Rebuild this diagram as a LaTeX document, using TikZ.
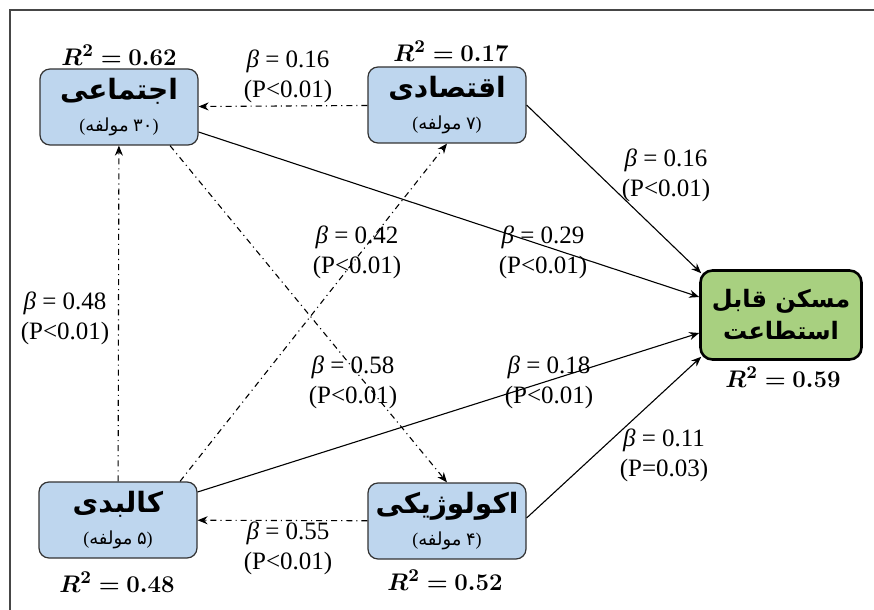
\documentclass[tikz,border=0pt]{standalone}
\usepackage{fontspec}
\usepackage{amsmath}
\usepackage{bm}
\usetikzlibrary{arrows.meta}
\TeXXeTstate=1
\setmainfont{Liberation Serif}
\newfontfamily\arabicfont[Script=Arabic]{DejaVu Sans}
\definecolor{boxblue}{RGB}{190,214,238}
\definecolor{boxgreen}{RGB}{168,208,128}
\definecolor{framegray}{RGB}{70,70,70}

\tikzset{
  factor/.style={draw=black!80, rounded corners=5pt, fill=boxblue, line width=0.6pt,
    minimum width=79pt, minimum height=38pt, align=center, inner sep=1pt},
  target/.style={draw=black, rounded corners=6pt, fill=boxgreen, line width=1.3pt,
    minimum width=80.5pt, minimum height=44.5pt, align=center, inner sep=1pt,
    font=\arabicfont\bfseries\fontsize{12}{16}\selectfont},
  coef/.style={align=center, font=\fontsize{12.5}{15}\selectfont, inner sep=0pt},
  rsq/.style={font=\fontsize{12.5}{14}\selectfont, inner sep=0pt},
  link/.style={-{Stealth[length=5pt,width=4pt]}, line width=0.55pt},
  weaklink/.style={link, dash dot},
}
\newcommand{\factorname}[2]{{\arabicfont\bfseries\fontsize{14}{16}\selectfont\beginR #1\endR}\\[4pt]{\fontsize{9}{10}\selectfont({\arabicfont مولفه}\ {\arabicfont #2})}}
\newcommand{\coefb}[2]{{\itshape β} = #1\\(P#2)}

\begin{document}
\begin{tikzpicture}[x=0.5pt,y=-0.5pt]
  \useasboundingbox (0,0) rectangle (874,610);
  \draw[framegray, line width=0.8pt] (10,610) -- (10,10) -- (874,10);

  % Define nodes
  \node[factor] (social) at (119,107) {\factorname{اجتماعی}{۳۰}};
  \node[factor] (economic) at (447,105) {\factorname{اقتصادی}{۷}};
  \node[factor] (physical) at (118,520) {\factorname{کالبدی}{۵}};
  \node[factor] (ecological) at (447,521) {\factorname{اکولوژیکی}{۴}};
  \node[target] (housing) at (781,315) {\beginR مسکن قابل\endR\\\beginR استطاعت\endR};

  % R squared
  \node[rsq] (rsocial) at (119,55) {$\bm{R^2 = 0.62}$};
  \node[rsq] (reconomic) at (451,51) {$\bm{R^2 = 0.17}$};
  \node[rsq] (rhousing) at (783,377) {$\bm{R^2 = 0.59}$};
  \node[rsq] (rphysical) at (117,582) {$\bm{R^2 = 0.48}$};
  \node[rsq] (recological) at (445,580) {$\bm{R^2 = 0.52}$};

  % Connect the nodes
  \draw[weaklink] (economic) -- (social);
  \draw[weaklink] (physical) -- (social);
  \draw[weaklink] (ecological) -- (physical);
  \draw[weaklink] ([xshift=31pt]physical.north) -- (economic.south);
  \draw[weaklink] ([xshift=25.5pt]social.south) -- (ecological.north);
  \draw[link] ([yshift=-12.5pt]social.east) -- ([yshift=9pt]housing.west);
  \draw[link] (economic.east) -- ([xshift=1pt,yshift=-2pt]housing.north west);
  \draw[link] ([yshift=14pt]physical.east) -- ([yshift=-9pt]housing.west);
  \draw[link] ([yshift=1.5pt]ecological.east) -- ([xshift=1pt,yshift=2pt]housing.south west);

  % Coefficients
  \node[coef] (bsocecon) at (288,76) {\coefb{0.16}{<0.01}};
  \node[coef] (bsochous) at (543,252) {\coefb{0.29}{<0.01}};
  \node[coef] (beconhous) at (666,175) {\coefb{0.16}{<0.01}};
  \node[coef] (bphyhous) at (549,382) {\coefb{0.18}{<0.01}};
  \node[coef] (becohous) at (664,455) {\coefb{0.11}{=0.03}};
  \node[coef] (bphyecon) at (357,252) {\coefb{0.42}{<0.01}};
  \node[coef] (bsoceco) at (353,382) {\coefb{0.58}{<0.01}};
  \node[coef] (bphysoc) at (65,318) {\coefb{0.48}{<0.01}};
  \node[coef] (becophy) at (288,548) {\coefb{0.55}{<0.01}};
\end{tikzpicture}
\end{document}
